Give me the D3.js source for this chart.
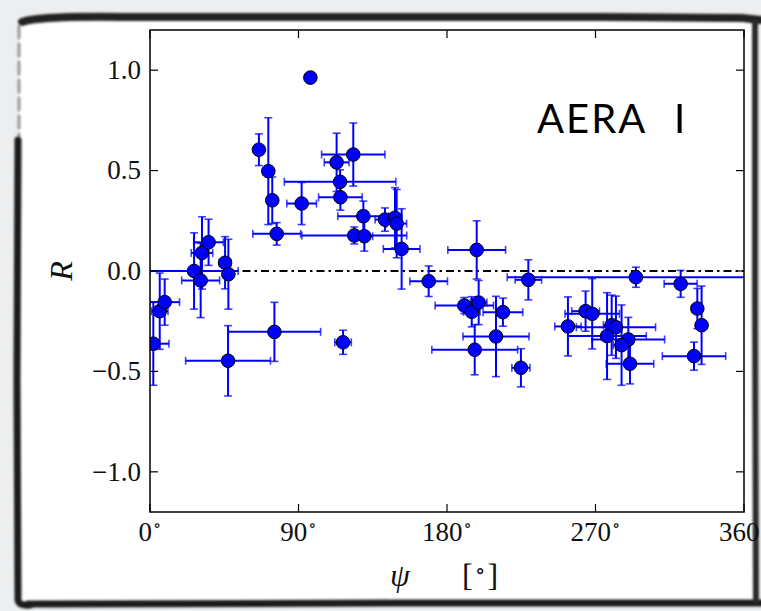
<!DOCTYPE html>
<html>
<head>
<meta charset="utf-8">
<script src="https://cdn.jsdelivr.net/npm/d3@7/dist/d3.min.js"></script>
<style>
  html, body { margin: 0; padding: 0; background: #eceef0; }
  svg { display: block; }
</style>
</head>
<body>
<svg id="chart" width="761" height="611"></svg>
<script>
// Azimuth of the shower axis (degrees) and the measured ratio R, with symmetric errors
const psi = [2.0, 5.9, 8.9, 26.7, 30.7, 31.5, 35.5, 45.5, 47.5, 47.3,
             66.0, 71.7, 74.1, 76.8, 75.4, 91.9, 97.2, 113.1, 123.2, 115.2,
             115.4, 129.3, 123.8, 129.9, 142.4, 148.5, 149.5, 152.5, 168.9, 198.0,
             229.3, 190.5, 195.0, 199.2, 213.9, 209.7, 196.8, 224.8, 294.5, 321.6,
             331.7, 334.3, 329.7, 253.3, 264.0, 268.0, 279.8, 282.4, 277.0, 289.9,
             285.8, 290.9, 117.0];
const R   = [-0.362, -0.200, -0.155, 0.000, -0.047, 0.090, 0.143, 0.041, -0.016, -0.447,
             0.604, 0.497, 0.352, 0.185, -0.303, 0.336, 0.963, 0.541, 0.580, 0.444,
             0.367, 0.273, 0.177, 0.173, 0.256, 0.265, 0.236, 0.110, -0.051, 0.105,
             -0.044, -0.172, -0.203, -0.157, -0.205, -0.326, -0.392, -0.482, -0.031, -0.064,
             -0.187, -0.270, -0.424, -0.276, -0.200, -0.213, -0.270, -0.280, -0.324, -0.341,
             -0.369, -0.462, -0.355];
const psiErr = [9.5, 5.0, 9.0, 26.7, 11.5, 6.5, 9.0, 3.5, 3.0, 25.7,
                3.0, 2.5, 3.0, 14.5, 28.0, 9.0, 0.0, 7.5, 19.2, 33.8,
                13.2, 15.5, 31.8, 5.0, 6.0, 4.0, 6.0, 11.1, 11.4, 17.5,
                8.0, 17.7, 5.0, 5.0, 12.0, 20.0, 26.0, 5.5, 78.0, 10.0,
                3.0, 3.0, 19.2, 8.0, 8.4, 16.5, 5.0, 24.0, 23.8, 22.0,
                5.0, 14.4, 5.0];
const rErr   = [0.207, 0.190, 0.115, 0.190, 0.185, 0.180, 0.115, 0.130, 0.174, 0.175,
                0.079, 0.266, 0.116, 0.056, 0.147, 0.105, 0.000, 0.145, 0.157, 0.060,
                0.064, 0.075, 0.042, 0.074, 0.058, 0.150, 0.170, 0.200, 0.076, 0.145,
                0.100, 0.040, 0.075, 0.110, 0.070, 0.200, 0.125, 0.095, 0.050, 0.067,
                0.100, 0.195, 0.070, 0.147, 0.100, 0.175, 0.150, 0.155, 0.216, 0.110,
                0.200, 0.100, 0.060];

const xTicks = [0, 90, 180, 270, 360];
const yTicks = [-1.0, -0.5, 0.0, 0.5, 1.0];

const svg = d3.select("#chart");
const W = 761, H = 611;

// Page background and white card with a rough dark border
svg.append("rect").attr("width", W).attr("height", H).attr("fill", "#eceef0");
svg.append("rect").attr("x", 20).attr("y", 19).attr("width", 738).attr("height", 584)
   .attr("rx", 6).attr("fill", "#ffffff");

const defs = svg.append("defs");
defs.append("filter").attr("id", "soft")
  .append("feGaussianBlur").attr("stdDeviation", 0.9);
defs.append("clipPath").attr("id", "plotclip")
  .append("rect").attr("x", 150).attr("y", 30).attr("width", 594).attr("height", 482);

const frame = svg.append("g").attr("filter", "url(#soft)").attr("fill", "none")
  .attr("stroke-linecap", "round");
frame.append("path").attr("d", "M22,22 Q40,16 120,17 L600,17 Q700,18 742,18 L761,20")
  .attr("stroke", "#222").attr("stroke-width", 8);
frame.append("path").attr("d", "M19,26 L19,140")
  .attr("stroke", "#9a9a9a").attr("stroke-width", 3).attr("stroke-dasharray", "12,6");
frame.append("path").attr("d", "M18,140 L17,380 L18,600 Q19,606 30,605")
  .attr("stroke", "#1e1e1e").attr("stroke-width", 7);
frame.append("path").attr("d", "M28,604 L400,603 L761,603")
  .attr("stroke", "#1e1e1e").attr("stroke-width", 7);
frame.append("path").attr("d", "M755,22 L755,300 L756,600")
  .attr("stroke", "#2a2a2a").attr("stroke-width", 6);

// Plot area
const pL = 150, pR = 744, pT = 30, pB = 512;
const x = d3.scaleLinear().domain([0, 360]).range([pL, pR]);
const y = d3.scaleLinear().domain([-1.2, 1.2]).range([pB, pT]);

const serif = "'Liberation Serif', 'DejaVu Serif', serif";

// Zero reference line
svg.append("line")
  .attr("x1", x(0)).attr("x2", x(360)).attr("y1", y(0)).attr("y2", y(0))
  .attr("stroke", "#000").attr("stroke-width", 2)
  .attr("stroke-dasharray", "8,4,2.5,4");

// Error bars
const pts = psi.map((p, i) => ({ p, r: R[i], ex: psiErr[i], ey: rErr[i] }));
const eb = svg.append("g").attr("clip-path", "url(#plotclip)")
  .attr("stroke", "#0000ff").attr("fill", "none");
const cap = 4;
pts.forEach(d => {
  if (d.ex > 0) {
    eb.append("line").attr("x1", x(d.p - d.ex)).attr("x2", x(d.p + d.ex))
      .attr("y1", y(d.r)).attr("y2", y(d.r)).attr("stroke-width", 2);
    [d.p - d.ex, d.p + d.ex].forEach(v => {
      eb.append("line").attr("x1", x(v)).attr("x2", x(v))
        .attr("y1", y(d.r) - cap).attr("y2", y(d.r) + cap)
        .attr("stroke-width", 1.6).attr("stroke-opacity", 0.75);
    });
  }
  if (d.ey > 0) {
    eb.append("line").attr("x1", x(d.p)).attr("x2", x(d.p))
      .attr("y1", y(d.r - d.ey)).attr("y2", y(d.r + d.ey)).attr("stroke-width", 2);
    [d.r - d.ey, d.r + d.ey].forEach(v => {
      eb.append("line").attr("x1", x(d.p) - cap).attr("x2", x(d.p) + cap)
        .attr("y1", y(v)).attr("y2", y(v))
        .attr("stroke-width", 1.6).attr("stroke-opacity", 0.75);
    });
  }
});

// Markers
svg.append("g").attr("clip-path", "url(#plotclip)")
  .selectAll("circle").data(pts).join("circle")
  .attr("cx", d => x(d.p)).attr("cy", d => y(d.r)).attr("r", 6.8)
  .attr("fill", "#0000ff").attr("stroke", "#000").attr("stroke-width", 1);

// Frame of the axes
svg.append("rect").attr("x", pL).attr("y", pT)
  .attr("width", pR - pL).attr("height", pB - pT)
  .attr("fill", "none").attr("stroke", "#000").attr("stroke-width", 1.5);

// Inward ticks on all four sides
const tk = 8;
const tg = svg.append("g").attr("stroke", "#000").attr("stroke-width", 1.2);
xTicks.forEach(t => {
  tg.append("line").attr("x1", x(t)).attr("x2", x(t)).attr("y1", pB).attr("y2", pB - tk);
  tg.append("line").attr("x1", x(t)).attr("x2", x(t)).attr("y1", pT).attr("y2", pT + tk);
});
yTicks.forEach(t => {
  tg.append("line").attr("x1", pL).attr("x2", pL + tk).attr("y1", y(t)).attr("y2", y(t));
  tg.append("line").attr("x1", pR).attr("x2", pR - tk).attr("y1", y(t)).attr("y2", y(t));
});

// Tick labels
const fmtY = v => (v < 0 ? "\u2212" : "") + Math.abs(v).toFixed(1);
svg.append("g").selectAll("text").data(yTicks).join("text")
  .attr("x", pL - 9).attr("y", d => y(d)).attr("dy", "0.33em")
  .attr("text-anchor", "end").attr("font-family", serif).attr("font-size", 27)
  .attr("fill", "#111").text(fmtY);

const xl = svg.append("g").selectAll("text").data(xTicks).join("text")
  .attr("x", d => x(d)).attr("y", pB + 29)
  .attr("text-anchor", "middle").attr("font-family", serif).attr("font-size", 27)
  .attr("fill", "#111");
xl.append("tspan").text(d => d);
xl.append("tspan").attr("dx", 1).attr("dy", -10).attr("font-size", 17).text("\u2218");

// Axis titles
svg.append("text").attr("transform", `translate(72,${y(0)}) rotate(-90)`)
  .attr("text-anchor", "middle").attr("font-family", serif).attr("font-style", "italic")
  .attr("font-size", 32).attr("fill", "#111").text("R");

svg.append("text").attr("x", 400).attr("y", 586)
  .attr("text-anchor", "middle").attr("font-family", serif).attr("font-style", "italic")
  .attr("font-size", 32).attr("fill", "#111").text("\u03c8");
const xt = svg.append("text").attr("x", 462).attr("y", 586)
  .attr("font-family", serif).attr("font-size", 32).attr("fill", "#111");
xt.append("tspan").text("[");
xt.append("tspan").attr("dx", 2).attr("dy", -8).attr("font-size", 22).text("\u2218");
xt.append("tspan").attr("dx", 2).attr("dy", 8).text("]");

// Station label
const st = svg.append("text").attr("x", 537).attr("y", 133)
  .attr("font-family", "Lato, 'Open Sans', sans-serif").attr("font-size", 40)
  .attr("fill", "#000");
st.append("tspan").attr("letter-spacing", 2).text("AERA");
st.append("tspan").attr("x", 674).text("I");
</script>
</body>
</html>
